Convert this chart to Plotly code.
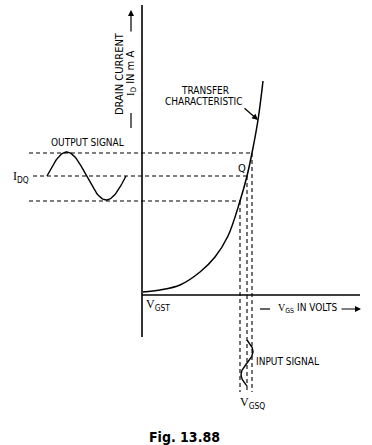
import numpy as np
import plotly.graph_objects as go

# ---- data (diagram coordinates, pixel-like units) ----
curve_x = [143, 160, 180, 200, 215, 228, 240, 247, 252, 258, 263]
curve_y = [292, 290, 285, 272, 257, 236, 201, 176, 153, 120, 81]

id_levels = [153, 176, 201]          # max, quiescent, min drain current
vgs_levels = [240, 247, 252]         # min, quiescent, max gate voltage
out_sig_x = [47, 126]                # output sine extent
out_sig_center = 176
out_sig_amp = 24
in_sig_y = [340, 386]
in_sig_center = 247
in_sig_amp = 6

axis_origin = (142, 295)
yaxis_top = 5
yaxis_bottom = 337
xaxis_right = 360

fig = go.Figure()
black = "#000"
SANS = "Liberation Sans Narrow, Arial Narrow, DejaVu Sans Condensed, sans-serif"
SERIF = "Liberation Serif, Times New Roman, serif"

def line(xs, ys, w=1.3, dash=None, shape="linear"):
    fig.add_trace(go.Scatter(x=xs, y=ys, mode="lines",
                             line=dict(color=black, width=w, dash=dash, shape=shape),
                             hoverinfo="skip", showlegend=False))

# axes
line([axis_origin[0], axis_origin[0]], [yaxis_top, yaxis_bottom], w=1.6)
line([axis_origin[0], xaxis_right], [axis_origin[1], axis_origin[1]], w=1.6)

# transfer curve
line(curve_x, curve_y, w=1.5, shape="spline")

# horizontal dashed lines
dash = "4px,3px"
line([29, vgs_levels[2]], [id_levels[0], id_levels[0]], w=1.1, dash=dash)
line([33, vgs_levels[1]], [id_levels[1], id_levels[1]], w=1.1, dash=dash)
line([29, vgs_levels[0]], [id_levels[2], id_levels[2]], w=1.1, dash=dash)

# vertical dashed lines
for vx, iy in zip(vgs_levels, [id_levels[2], id_levels[1], id_levels[0]]):
    line([vx, vx], [iy, 392], w=1.1, dash=dash)

# output signal
t = np.linspace(0, 1, 80)
ox = out_sig_x[0] + t * (out_sig_x[1] - out_sig_x[0])
oy = out_sig_center - out_sig_amp * np.sin(2 * np.pi * t)
line(ox, oy, w=1.4)

# input signal
iy = in_sig_y[0] + t * (in_sig_y[1] - in_sig_y[0])
ix = in_sig_center + in_sig_amp * np.sin(2 * np.pi * t)
line(ix, iy, w=1.4)

def text(x, y, s, size=11, angle=0, xanchor="center", family=SANS):
    fig.add_annotation(x=x, y=y, text=s, showarrow=False, textangle=angle,
                       xanchor=xanchor, yanchor="middle",
                       font=dict(family=family, size=size, color=black))

def arrow(x0, y0, x1, y1, w=1.2):
    fig.add_annotation(x=x1, y=y1, ax=x0, ay=y0, axref="x", ayref="y",
                       xref="x", yref="y", text="", showarrow=True,
                       arrowhead=2, arrowsize=1, arrowwidth=w, arrowcolor=black)

# y axis labels
text(119, 74, "DRAIN CURRENT", size=11, angle=-90)
text(131, 74, "<span style='font-family:Liberation Serif'>I</span><sub>D</sub> IN m A", size=11, angle=-90)
line([131, 131], [113, 128], w=1.2)
arrow(131, 33, 131, 10)

text(205, 90, "TRANSFER", size=10)
text(204, 101, "CHARACTERISTIC", size=10)
arrow(243, 107, 258, 120)

text(87, 142, "OUTPUT SIGNAL", size=10)
text(21, 177, "<span style='font-family:Liberation Serif'>I</span><sub>DQ</sub>", size=12)
text(242, 168, "Q", size=11)

text(158, 305, "<span style='font-family:Liberation Serif'>V</span><sub>GST</sub>", size=12)
line([260, 270], [309, 309], w=1.2)
text(307, 308, "<span style='font-family:Liberation Serif'>V</span><sub>GS</sub> IN VOLTS", size=10)
arrow(340, 309, 361, 309)

text(287, 361, "INPUT SIGNAL", size=10)
text(252, 403, "<span style='font-family:Liberation Serif'>V</span><sub>GSQ</sub>", size=12)

text(184, 437, "<b>Fig. 13.88</b>", size=14)

fig.update_layout(width=372, height=445, margin=dict(l=0, r=0, t=0, b=0),
                  paper_bgcolor="white", plot_bgcolor="white",
                  xaxis=dict(range=[0, 372], visible=False, fixedrange=True),
                  yaxis=dict(range=[445, 0], visible=False, fixedrange=True))
fig.write_html("out.html", config={"displayModeBar": False},
               post_script="document.body.style.margin='0';document.body.style.overflow='hidden';")
